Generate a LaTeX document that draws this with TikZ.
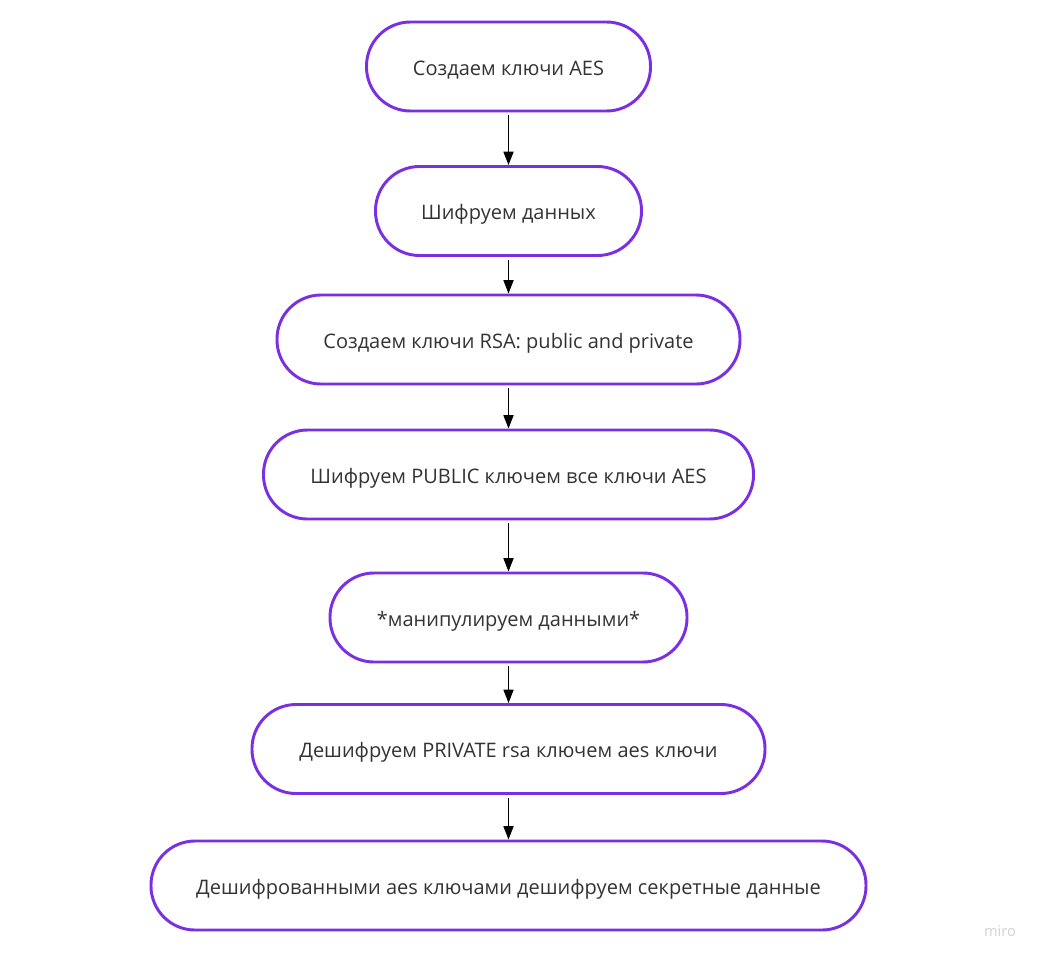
\documentclass[tikz,border=0pt]{standalone}
\usepackage{fontspec}
\setmainfont{Open Sans}
\usetikzlibrary{arrows.meta}
\definecolor{mpurple}{HTML}{7B2FE3}
\definecolor{mtext}{HTML}{333333}
\definecolor{mlogo}{HTML}{D2D2DC}
\begin{document}
\begin{tikzpicture}[x=0.75pt,y=-0.75pt,
  stepbox/.style={draw=mpurple,line width=2.2pt,fill=white,rounded corners=33pt,
    minimum height=66.75pt,inner sep=0pt,text height=13pt,text depth=0pt,
    text=mtext,font=\fontsize{15}{18}\selectfont},
  conn/.style={line width=1.1pt,-{Triangle[length=10pt,width=7.5pt]},shorten <=2pt}]
\useasboundingbox (0,0) rectangle (1041,960);
\fill[white] (0,0) rectangle (1041,960);
\node[stepbox,minimum width=213pt] (n1) at (508.5,66.5) {Создаем ключи AES};
\node[stepbox,minimum width=199.5pt] (n2) at (508.5,211) {Шифруем данных};
\node[stepbox,minimum width=347.25pt] (n3) at (508.5,339.5) {Создаем ключи RSA: public and private};
\node[stepbox,minimum width=367.5pt] (n4) at (508.5,474.5) {Шифруем PUBLIC ключем все ключи AES};
\node[stepbox,minimum width=267.75pt] (n5) at (508.5,617.5) {*манипулируем данными*};
\node[stepbox,minimum width=384.75pt] (n6) at (508.5,749) {Дешифруем PRIVATE rsa ключем aes ключи};
\node[stepbox,minimum width=536.25pt] (n7) at (508.5,885.5) {Дешифрованными aes ключами дешифруем секретные данные};
\draw[conn] (n1.south) -- (n2.north);
\draw[conn] (n2.south) -- (n3.north);
\draw[conn] (n3.south) -- (n4.north);
\draw[conn] (n4.south) -- (n5.north);
\draw[conn] (n5.south) -- (n6.north);
\draw[conn] (n6.south) -- (n7.north);
\node[text=mlogo,font=\fontsize{11}{13}\selectfont] (logo) at (1000,931) {miro};
\end{tikzpicture}
\end{document}
